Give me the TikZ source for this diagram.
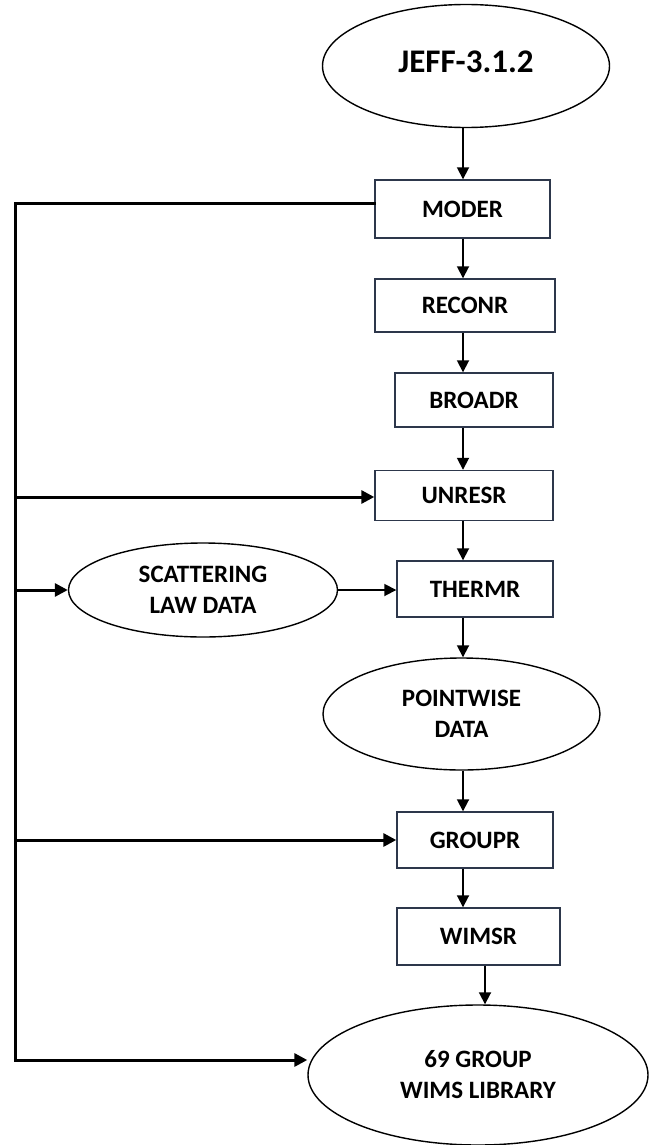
\documentclass[tikz,border=0pt]{standalone}
\usepackage{fontspec}
\setmainfont{Carlito}
\usetikzlibrary{arrows.meta,shapes.geometric}
\definecolor{boxline}{RGB}{45,55,75}
\begin{document}
\begin{tikzpicture}[x=1pt,y=-1pt,
  box/.style={draw=boxline,line width=1.4pt,minimum width=#1,inner sep=0pt,font=\bfseries\fontsize{25}{27}\selectfont},
  box/.default=160pt,
  ell/.style={draw,ellipse,line width=1.4pt,inner sep=0pt,font=\bfseries\fontsize{25}{31}\selectfont,align=center},
  flow/.style={line width=1.8pt,-{Triangle[length=12pt,width=12pt]}},
  feed/.style={line width=3pt},
  feeda/.style={line width=3pt,-{Triangle[length=13pt,width=13pt]}}]
\useasboundingbox (0,0) rectangle (648,1145);
\node[ell,minimum width=287pt,minimum height=123pt] (jeff) at (466,66) {\fontsize{33}{35}\selectfont\raisebox{9pt}{JEFF-3.1.2}};
\node[box=175pt,minimum height=58pt] (moder) at (462.5,209) {MODER};
\node[box=180pt,minimum height=53pt] (reconr) at (465,305.5) {RECONR};
\node[box=158pt,minimum height=54pt] (broadr) at (474,400) {BROADR};
\node[box=178pt,minimum height=50pt] (unresr) at (464,495.5) {UNRESR};
\node[box=156pt,minimum height=56pt] (thermr) at (475,589) {THERMR};
\node[ell,minimum width=269pt,minimum height=94pt] (scat) at (203,590) {SCATTERING\\LAW DATA};
\node[ell,minimum width=277pt,minimum height=112pt] (point) at (461.5,714) {POINTWISE\\DATA};
\node[box=156pt,minimum height=56pt] (groupr) at (475,840) {GROUPR};
\node[box=163pt,minimum height=57pt] (wimsr) at (478.5,936.5) {WIMSR};
\node[ell,minimum width=340pt,minimum height=140pt] (lib) at (478,1075) {69 GROUP\\WIMS LIBRARY};
\coordinate (top) at (15,203);
\coordinate (bot) at (15,1060);
% main chain
\draw[flow] (jeff.south -| 463,0) -- (moder.north -| 463,0);
\draw[flow] (moder.south -| 463,0) -- (reconr.north -| 463,0);
\draw[flow] (reconr.south -| 463,0) -- (broadr.north -| 463,0);
\draw[flow] (broadr.south -| 463,0) -- (unresr.north -| 463,0);
\draw[flow] (unresr.south -| 463,0) -- (thermr.north -| 463,0);
\draw[flow] (thermr.south -| 463,0) -- (point.north -| 463,0);
\draw[flow] (point.south -| 463,0) -- (groupr.north -| 463,0);
\draw[flow] (groupr.south -| 463,0) -- (wimsr.north -| 463,0);
\draw[flow] (wimsr.south -| 485,0) -- (lib.north -| 485,0);
% feeders
\draw[feed,line cap=rect] (moder.west |- top) -- (top) -- (bot);
\draw[feeda] (15,497) -- (unresr.west |- 15,497);
\draw[feeda] (scat.west -| 15,0) -- (scat.west);
\draw[flow] (scat.east) -- (thermr.west |- scat.east);
\draw[feeda] (15,840) -- (groupr.west);
\draw[feeda] (bot) -- (lib.west |- bot);
\end{tikzpicture}
\end{document}
